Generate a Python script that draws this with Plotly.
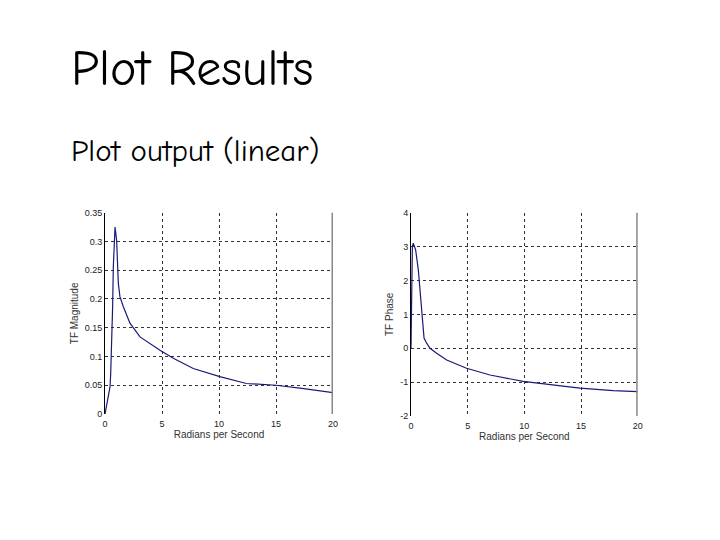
import plotly.graph_objects as go

# Magnitude data
mag_w = [0, 0.29, 0.44, 0.5, 0.58, 0.67, 0.73, 0.82, 0.88, 1.02, 1.17, 1.31, 1.6, 2.19, 3.07, 4.82, 5.99, 7.74, 10.07, 12.4, 15.0, 17.1, 20.0]
mag_v = [0, 0.03, 0.047, 0.07, 0.11, 0.187, 0.256, 0.308, 0.325, 0.302, 0.227, 0.204, 0.187, 0.158, 0.134, 0.111, 0.097, 0.079, 0.065, 0.053, 0.05, 0.045, 0.037]

# Phase data
ph_w = [0, 0.06, 0.09, 0.12, 0.2, 0.41, 0.65, 0.85, 0.97, 1.15, 1.38, 1.68, 2.26, 3.15, 4.9, 6.97, 9.9, 12.56, 14.9, 17.85, 20.0]
ph_v = [0, 1.03, 2.4, 3.0, 3.1, 2.9, 2.3, 1.42, 0.83, 0.3, 0.15, 0.0, -0.15, -0.35, -0.59, -0.79, -0.98, -1.08, -1.18, -1.25, -1.28]

x_ticks = [0, 5, 10, 15, 20]
mag_ticks = [0, 0.05, 0.1, 0.15, 0.2, 0.25, 0.3, 0.35]
mag_tick_text = ["0", "0.05", "0.1", "0.15", "0.2", "0.25", "0.3", "0.35"]
ph_ticks = [-2, -1, 0, 1, 2, 3, 4]
ph_tick_text = ["-2", "-1", "0", "1", "2", "3", "4"]

W, H = 720, 540
OFF = 8  # page body margin
line_color = "#1a1a78"

def dx(px):
    return (px - OFF) / W

def dy(px):
    return 1 - (px - OFF) / H

fig = go.Figure()
fig.add_trace(go.Scatter(x=mag_w, y=mag_v, mode="lines", line=dict(color=line_color, width=1.2),
                         xaxis="x", yaxis="y", showlegend=False))
fig.add_trace(go.Scatter(x=ph_w, y=ph_v, mode="lines", line=dict(color=line_color, width=1.2),
                         xaxis="x2", yaxis="y2", showlegend=False))

lab_font = "Liberation Sans, Arial, sans-serif"
tickfont = dict(family=lab_font, size=9, color="#222")
common_x = dict(range=[0, 20], tickvals=x_ticks, showgrid=True, gridcolor="#333", griddash="dot",
                gridwidth=1, zeroline=False, showline=False, ticks="", tickfont=tickfont, automargin=False,
                ticklabelstandoff=3,
                title=dict(text="Radians per Second", font=dict(family=lab_font, size=10, color="#333"), standoff=2))

fig.update_layout(
    width=W, height=H, paper_bgcolor="white", plot_bgcolor="white",
    margin=dict(l=0, r=0, t=0, b=0, autoexpand=False),
    xaxis=dict(domain=[dx(105), dx(333)], anchor="y", **common_x),
    yaxis=dict(domain=[dy(414), dy(212.7)], anchor="x", range=[0, 0.35], tickvals=mag_ticks, ticktext=mag_tick_text,
               showgrid=True, gridcolor="#333", griddash="dot", zeroline=False, showline=True, linecolor="black",
               linewidth=1, ticks="", tickfont=tickfont, automargin=False,
               title=dict(text="TF Magnitude", font=dict(family=lab_font, size=10, color="#333"), standoff=4)),
    xaxis2=dict(domain=[dx(411), dx(637.7)], anchor="y2", **common_x),
    yaxis2=dict(domain=[dy(416), dy(212.7)], anchor="x2", range=[-2, 4], tickvals=ph_ticks, ticktext=ph_tick_text,
                showgrid=True, gridcolor="#333", griddash="dot", zeroline=False, showline=True, linecolor="black",
                linewidth=1, ticks="", tickfont=tickfont, automargin=False,
                title=dict(text="TF Phase", font=dict(family=lab_font, size=10, color="#333"), standoff=4)),
)

# right border lines
fig.add_shape(type="line", xref="x", yref="y domain", x0=20, x1=20, y0=0, y1=1, line=dict(color="#888", width=3))
fig.add_shape(type="line", xref="x2", yref="y2 domain", x0=20, x1=20, y0=0, y1=1, line=dict(color="#888", width=3))

title_font = "Comic Sans MS, Comic Neue, Noto Sans, DejaVu Sans, sans-serif"
fig.add_annotation(text="Plot Results", xref="paper", yref="paper", x=dx(69), y=dy(69), xanchor="left", yanchor="middle",
                   showarrow=False, font=dict(family=title_font, size=50, color="black"))
fig.add_annotation(text="Plot output (linear)", xref="paper", yref="paper", x=dx(69), y=dy(151), xanchor="left", yanchor="middle",
                   showarrow=False, font=dict(family=title_font, size=31, color="black"))

fig.write_html("out.html")
